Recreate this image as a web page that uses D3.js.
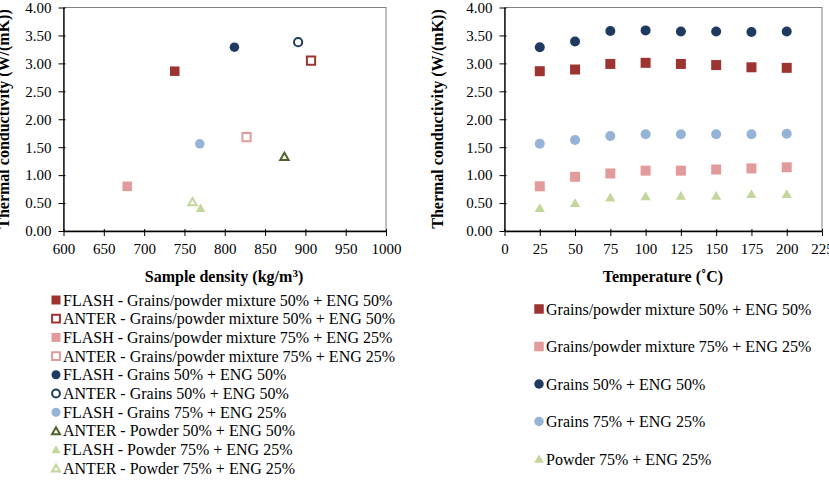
<!DOCTYPE html>
<meta charset="utf-8">
<style>
body { margin: 0; background: #fff; }
.tick text { font-size: 15px; }
.title { font-size: 16px; font-weight: bold; }
.leg { font-size: 16px; }
</style>
<body>
<svg id="chart" width="829" height="480"></svg>
</body>
<script src="https://d3js.org/d3.v7.min.js"></script>
<script>

// ---- data (left: density vs conductivity) ----
var densitySeries = [
  {name: "FLASH - Grains/powder mixture 50% + ENG 50%", shape: "square", color: "#9e3432", open: false, x: 738, y: 2.86},
  {name: "ANTER - Grains/powder mixture 50% + ENG 50%", shape: "square", color: "#9e3432", open: true,  x: 907, y: 3.05},
  {name: "FLASH - Grains/powder mixture 75% + ENG 25%", shape: "square", color: "#e39a9a", open: false, x: 679, y: 0.80},
  {name: "ANTER - Grains/powder mixture 75% + ENG 25%", shape: "square", color: "#e39a9a", open: true,  x: 827, y: 1.68},
  {name: "FLASH - Grains 50% + ENG 50%",                shape: "circle", color: "#1f3a60", open: false, x: 812, y: 3.29},
  {name: "ANTER - Grains 50% + ENG 50%",                shape: "circle", color: "#1f3a60", open: true,  x: 891, y: 3.38},
  {name: "FLASH - Grains 75% + ENG 25%",                shape: "circle", color: "#95b3d7", open: false, x: 769, y: 1.56},
  {name: "ANTER - Powder 50% + ENG 50%",                shape: "triangle", color: "#4f6228", open: true, x: 874, y: 1.33},
  {name: "FLASH - Powder 75% + ENG 25%",                shape: "triangle", color: "#c3d69b", open: false, x: 770, y: 0.41},
  {name: "ANTER - Powder 75% + ENG 25%",                shape: "triangle", color: "#c3d69b", open: true, x: 760, y: 0.52}
];
var densityTicks = [600, 650, 700, 750, 800, 850, 900, 950, 1000];

// ---- data (right: temperature vs conductivity) ----
var temperatures = [25, 50, 75, 100, 125, 150, 175, 200];
var tempTicks = [0, 25, 50, 75, 100, 125, 150, 175, 200, 225];
var gp50 = [2.86, 2.89, 2.99, 3.01, 2.99, 2.97, 2.93, 2.92];
var gp75 = [0.80, 0.97, 1.03, 1.08, 1.08, 1.10, 1.12, 1.14];
var grains50 = [3.29, 3.39, 3.58, 3.59, 3.57, 3.57, 3.56, 3.57];
var grains75 = [1.56, 1.63, 1.70, 1.73, 1.73, 1.73, 1.73, 1.74];
var powder75 = [0.41, 0.50, 0.60, 0.62, 0.63, 0.63, 0.66, 0.66];

var tempSeries = [
  {name: "Grains/powder mixture 50% + ENG 50%", shape: "square", color: "#9e3432", values: gp50},
  {name: "Grains/powder mixture 75% + ENG 25%", shape: "square", color: "#e39a9a", values: gp75},
  {name: "Grains 50% + ENG 50%", shape: "circle", color: "#1f3a60", values: grains50},
  {name: "Grains 75% + ENG 25%", shape: "circle", color: "#95b3d7", values: grains75},
  {name: "Powder 75% + ENG 25%", shape: "triangle", color: "#c3d69b", values: powder75}
];

var yTicks = [0, 0.5, 1, 1.5, 2, 2.5, 3, 3.5, 4];

var svg = d3.select("#chart");

function marker(g, shape, color, open, size) {
  var sym = shape == "square" ? d3.symbolSquare : shape == "circle" ? d3.symbolCircle : d3.symbolTriangle;
  var area = shape == "square" ? size * size : shape == "circle" ? Math.PI * size * size / 4 : size * size * 0.45;
  var p = g.append("path").attr("d", d3.symbol().type(sym).size(open ? area * 0.75 : area)());
  if (shape == "triangle") p.attr("transform", "translate(0,1)");
  if (open) {
    p.attr("fill", "#fff").attr("stroke", color).attr("stroke-width", 2);
  } else {
    p.attr("fill", color);
  }
  return p;
}

function drawFrame(g, x, y, xTicks) {
  var x0 = x.range()[0], x1 = x.range()[1], y0 = y.range()[0], y1 = y.range()[1];
  g.append("rect")
    .attr("x", x0).attr("y", y1)
    .attr("width", x1 - x0).attr("height", y0 - y1)
    .attr("fill", "none").attr("stroke", "#808080").attr("stroke-width", 1);

  var ya = g.append("g").attr("transform", "translate(" + x0 + ",0)")
    .call(d3.axisLeft(y).tickValues(yTicks).tickSize(5).tickSizeOuter(0).tickPadding(7)
      .tickFormat(d3.format(".2f")));
  var xa = g.append("g").attr("transform", "translate(0," + y0 + ")")
    .call(d3.axisBottom(x).tickValues(xTicks).tickFormat(d3.format("d"))
      .tickSize(5).tickSizeOuter(0).tickPadding(7));
  [ya, xa].forEach(function(a) {
    a.attr("font-family", null).attr("font-size", null);
    a.select(".domain").attr("stroke", "#000").attr("stroke-width", 1.3);
    a.selectAll(".tick line").attr("stroke", "#000");
    a.selectAll(".tick text").attr("fill", "#000");
  });
  // inward half of the ticks
  ya.selectAll(".tick").append("line").attr("x1", 0).attr("x2", 2).attr("stroke", "#000");
  xa.selectAll(".tick").append("line").attr("y1", 0).attr("y2", -2).attr("stroke", "#000");
}

// ---- left chart ----
var xL = d3.scaleLinear().domain([600, 1000]).range([63.5, 386]);
var yL = d3.scaleLinear().domain([0, 4]).range([231, 7.5]);
var gL = svg.append("g");
drawFrame(gL, xL, yL, densityTicks);

densitySeries.forEach(function(s) {
  var m = gL.append("g").attr("transform", "translate(" + xL(s.x) + "," + yL(s.y) + ")");
  marker(m, s.shape, s.color, s.open, 9.5);
});

gL.append("text").attr("class", "title")
  .attr("x", 224).attr("y", 282)
  .attr("text-anchor", "middle")
  .html("Sample density (kg/m<tspan dy='-5' font-size='11'>3</tspan><tspan dy='5'>)</tspan>");
gL.append("text").attr("class", "title")
  .attr("transform", "translate(9,119) rotate(-90)")
  .attr("text-anchor", "middle")
  .text("Thermal conductivity (W/(mK))");

var legL = gL.append("g");
densitySeries.forEach(function(s, i) {
  var row = legL.append("g").attr("transform", "translate(56," + (300 + i * 18.7) + ")");
  marker(row, s.shape, s.color, s.open, 9);
  row.append("text").attr("class", "leg").attr("x", 7).attr("y", 5.5).text(s.name);
});

// ---- right chart ----
var xR = d3.scaleLinear().domain([0, 225]).range([504.5, 822]);
var yR = d3.scaleLinear().domain([0, 4]).range([231, 7.5]);
var gR = svg.append("g");
drawFrame(gR, xR, yR, tempTicks);

tempSeries.forEach(function(s) {
  s.values.forEach(function(v, i) {
    var m = gR.append("g").attr("transform", "translate(" + xR(temperatures[i]) + "," + yR(v) + ")");
    marker(m, s.shape, s.color, false, 10);
  });
});

gR.append("text").attr("class", "title")
  .attr("x", 663).attr("y", 282)
  .attr("text-anchor", "middle")
  .text("Temperature (\u02DAC)");
gR.append("text").attr("class", "title")
  .attr("transform", "translate(443,119) rotate(-90)")
  .attr("text-anchor", "middle")
  .text("Thermal conductivity (W/(mK))");

var legR = gR.append("g");
tempSeries.forEach(function(s, i) {
  var row = legR.append("g").attr("transform", "translate(539," + (309 + i * 37.5) + ")");
  marker(row, s.shape, s.color, false, 9.5);
  row.append("text").attr("class", "leg").attr("x", 7).attr("y", 5.5).text(s.name);
});

// serif face, set on every text directly
svg.selectAll("text")
  .style("font-family", "'Liberation Serif', 'Times New Roman', Times, 'DejaVu Serif', serif")
  .style("fill", "#000");

</script>
